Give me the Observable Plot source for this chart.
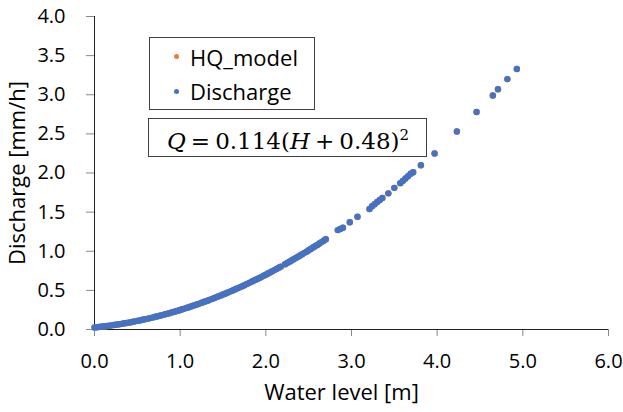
<!DOCTYPE html>
<html>
<head>
<meta charset="utf-8">
<script src="https://cdn.jsdelivr.net/npm/d3@7"></script>
<script src="https://cdn.jsdelivr.net/npm/@observablehq/plot@0.6"></script>
<style>
  html, body { margin: 0; padding: 0; background: #fff; }
  #wrap { position: relative; width: 623px; height: 412px; font-family: "Open Sans", sans-serif; }
  .box { position: absolute; border: 1px solid #404040; background: #fff; box-sizing: border-box; }
  .item { position: absolute; font-size: 22px; color: #000; line-height: 22px; white-space: nowrap; }
  .sw { position: absolute; width: 5px; height: 5px; border-radius: 50%; }
  #formula { font-family: "DejaVu Serif", serif; font-size: 23px; color: #000; white-space: nowrap; line-height: 30px; }
  #formula .op { margin: 0 5px; }
</style>
</head>
<body>
<div id="wrap"></div>
<script>
// Data: water level H [m] and discharge Q [mm/h]
const waterLevel = [
  0.000, 0.025, 0.050, 0.075, 0.100, 0.125, 0.150, 0.175, 0.200, 0.225, 0.250, 0.275,
  0.300, 0.325, 0.350, 0.375, 0.400, 0.425, 0.450, 0.475, 0.500, 0.525, 0.550, 0.575,
  0.600, 0.625, 0.650, 0.675, 0.700, 0.725, 0.750, 0.775, 0.800, 0.825, 0.850, 0.875,
  0.900, 0.925, 0.950, 0.975, 1.000, 1.025, 1.050, 1.075, 1.100, 1.125, 1.150, 1.175,
  1.200, 1.225, 1.250, 1.275, 1.300, 1.325, 1.350, 1.375, 1.400, 1.425, 1.450, 1.475,
  1.500, 1.525, 1.550, 1.575, 1.600, 1.625, 1.650, 1.675, 1.700, 1.725, 1.750, 1.775,
  1.800, 1.825, 1.850, 1.875, 1.900, 1.925, 1.950, 1.975, 2.000, 2.025, 2.050, 2.075,
  2.100, 2.125, 2.150, 2.175, 2.225, 2.250, 2.275, 2.300, 2.325, 2.350, 2.375, 2.400,
  2.425, 2.450, 2.475, 2.500, 2.525, 2.550, 2.575, 2.600, 2.625, 2.650, 2.675, 2.700,
  2.840, 2.870, 2.900, 2.980, 3.070, 3.210, 3.240, 3.270, 3.300, 3.330, 3.360, 3.430,
  3.500, 3.570, 3.600, 3.630, 3.660, 3.690, 3.720, 3.810, 3.970, 4.230, 4.460, 4.650,
  4.710, 4.820, 4.930
];
const discharge = [
  0.026, 0.029, 0.032, 0.035, 0.038, 0.042, 0.045, 0.049, 0.053, 0.057, 0.061, 0.065,
  0.069, 0.074, 0.079, 0.083, 0.088, 0.093, 0.099, 0.104, 0.110, 0.115, 0.121, 0.127,
  0.133, 0.139, 0.146, 0.152, 0.159, 0.166, 0.173, 0.180, 0.187, 0.194, 0.202, 0.209,
  0.217, 0.225, 0.233, 0.241, 0.250, 0.258, 0.267, 0.276, 0.285, 0.294, 0.303, 0.312,
  0.322, 0.331, 0.341, 0.351, 0.361, 0.371, 0.382, 0.392, 0.403, 0.414, 0.425, 0.436,
  0.447, 0.458, 0.470, 0.481, 0.493, 0.505, 0.517, 0.529, 0.542, 0.554, 0.567, 0.580,
  0.593, 0.606, 0.619, 0.632, 0.646, 0.659, 0.673, 0.687, 0.701, 0.715, 0.730, 0.744,
  0.759, 0.774, 0.789, 0.804, 0.834, 0.850, 0.865, 0.881, 0.897, 0.913, 0.929, 0.946,
  0.962, 0.979, 0.995, 1.012, 1.029, 1.047, 1.064, 1.081, 1.099, 1.117, 1.135, 1.153,
  1.270, 1.285, 1.300, 1.370, 1.440, 1.540, 1.575, 1.600, 1.630, 1.655, 1.680, 1.740,
  1.810, 1.870, 1.900, 1.930, 1.960, 1.990, 2.010, 2.100, 2.250, 2.530, 2.780, 2.990,
  3.070, 3.200, 3.330
];
const modelQ = discharge.slice(); // HQ_model lies under the measured points

const xTicks = [0, 1, 2, 3, 4, 5, 6];
const yTicks = [0, 0.5, 1, 1.5, 2, 2.5, 3, 3.5, 4];
const xTitle = "Water level [m]";
const yTitle = "Discharge [mm/h]";
const seriesNames = ["HQ_model", "Discharge"];
const seriesColors = ["#ED7D31", "#4472C4"];
const formulaText = { coef: "0.114", offset: "0.48", power: "2" };

const model = waterLevel.map((h, i) => ({ h, q: modelQ[i] }));
const obs = waterLevel.map((h, i) => ({ h, q: discharge[i] }));

const chart = Plot.plot({
  width: 623,
  height: 412,
  marginLeft: 94,
  marginRight: 15,
  marginTop: 16,
  marginBottom: 83,
  style: { fontFamily: "Open Sans, sans-serif", fontSize: "20px", color: "#000", background: "#fff" },
  x: { domain: [0, 6] },
  y: { domain: [0, 4] },
  marks: [
    Plot.axisX({ ticks: xTicks, tickFormat: d => d.toFixed(1), tickSize: 7, tickPadding: 17, stroke: "#888",
      fontSize: 20, label: null }),
    Plot.axisY({ ticks: yTicks, tickFormat: d => d.toFixed(1), tickSize: 8, tickPadding: 21, stroke: "#888",
      fontSize: 20, label: null }),
    Plot.text([xTitle], { frameAnchor: "bottom", textAnchor: "middle", lineAnchor: "middle", dx: -10, dy: 63, fontSize: 22, text: d => d }),
    Plot.text([yTitle], { frameAnchor: "left", textAnchor: "middle", lineAnchor: "middle", rotate: -90, dx: -77, fontSize: 22, text: d => d }),
    Plot.ruleY([0], { stroke: "#222" }),
    Plot.ruleX([0], { stroke: "#222" }),
    Plot.dot(model, { x: "h", y: "q", r: 3.2, fill: seriesColors[0], stroke: "none" }),
    Plot.dot(obs, { x: "h", y: "q", r: 3.2, fill: seriesColors[1], stroke: "none" })
  ]
});

const wrap = document.getElementById("wrap");
wrap.appendChild(chart);

// Legend box
const leg = document.createElement("div");
leg.className = "box";
Object.assign(leg.style, { left: "149px", top: "37px", width: "166px", height: "73px" });
seriesNames.forEach((name, i) => {
  const sw = document.createElement("div");
  sw.className = "sw";
  Object.assign(sw.style, { left: "24px", top: (16 + i * 35) + "px", background: seriesColors[i] });
  leg.appendChild(sw);
  const t = document.createElement("div");
  t.className = "item";
  t.textContent = name;
  Object.assign(t.style, { left: "40px", top: (8 + i * 34) + "px" });
  leg.appendChild(t);
});
wrap.appendChild(leg);

// Formula box
const fb = document.createElement("div");
fb.className = "box";
Object.assign(fb.style, { left: "148px", top: "118px", width: "279px", height: "39px" });
const f = document.createElement("div");
f.id = "formula";
f.style.position = "absolute";
f.style.left = "18px";
f.style.top = "1px";
f.innerHTML = `<i>Q</i><span class="op">=</span>${formulaText.coef}(<i>H</i><span class="op">+</span>${formulaText.offset})<sup style="font-size:15px;vertical-align:9px">${formulaText.power}</sup>`;
fb.appendChild(f);
wrap.appendChild(fb);
</script>
</body>
</html>
